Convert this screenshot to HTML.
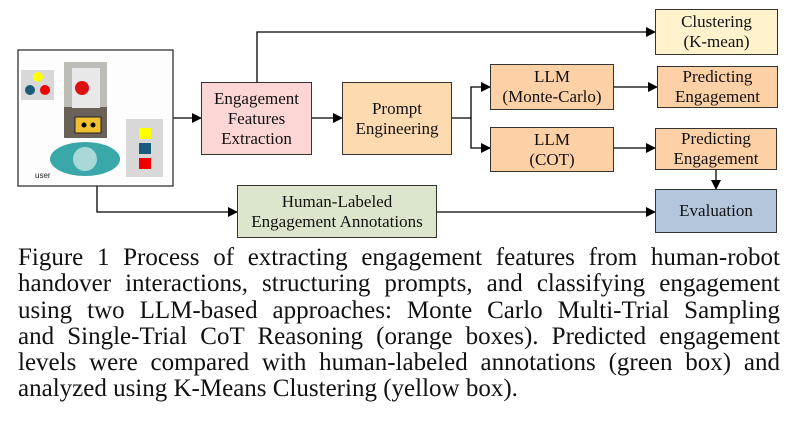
<!DOCTYPE html>
<html><head><style>
body{margin:0;width:797px;height:432px;background:#fff;position:relative;overflow:hidden;font-family:"Liberation Serif",serif}
.b{position:absolute;box-sizing:border-box;border:1.5px solid #333;display:flex;align-items:center;justify-content:center;text-align:center;font-size:17px;line-height:20px;color:#111}
.cap{position:absolute;left:18px;top:245px;width:762px;font-size:25px;line-height:26.3px;color:#111}
.cap div{text-align:justify;text-align-last:justify;white-space:nowrap}
.cap div.l{text-align-last:left;letter-spacing:0}
</style></head><body>
<svg width="797" height="432" style="position:absolute;left:0;top:0">
<defs><marker id="a" markerWidth="10" markerHeight="10" refX="9" refY="5" orient="auto" markerUnits="userSpaceOnUse"><path d="M0,0 L10,5 L0,10 z" fill="#000"/></marker></defs>
<g stroke="#000" stroke-width="1.3" fill="none">
<path d="M173,118 H201" marker-end="url(#a)"/>
<path d="M257,82 V32 H655" marker-end="url(#a)"/>
<path d="M312,118 H342" marker-end="url(#a)"/>
<path d="M452,118 H471 V87 H490" marker-end="url(#a)"/>
<path d="M471,118 V148 H490" marker-end="url(#a)"/>
<path d="M614,87 H657" marker-end="url(#a)"/>
<path d="M614,148 H655" marker-end="url(#a)"/>
<path d="M716,170 V189" marker-end="url(#a)"/>
<path d="M97,186 V212 H237" marker-end="url(#a)"/>
<path d="M437,212 H655" marker-end="url(#a)"/>
</g>
<rect x="18" y="50" width="155" height="136" fill="#fdfdfd" stroke="#333" stroke-width="1.3"/>
<rect x="21" y="70" width="33" height="30" fill="#d8d8d8"/>
<circle cx="38" cy="77" r="5" fill="#ffff00"/><circle cx="30" cy="90" r="5" fill="#1a5a7a"/><circle cx="45" cy="90" r="5" fill="#ee0000"/>
<rect x="64" y="62" width="43" height="45" fill="#bdbdb8"/><rect x="64" y="107" width="43" height="31" fill="#6a6258"/>
<rect x="72" y="68" width="28" height="40" fill="#e8e8e8"/><circle cx="82" cy="88" r="7" fill="#dd1111"/>
<rect x="75" y="117" width="26" height="16" fill="#f0c030" stroke="#222"/><circle cx="84" cy="125" r="2.5" fill="#000"/><circle cx="93" cy="125" r="2.5" fill="#000"/>
<rect x="126" y="119" width="37" height="58" fill="#d8d8d8"/>
<rect x="139" y="128" width="12" height="11" fill="#ffff00"/><rect x="139" y="143" width="12" height="11" fill="#1a5a7a"/><rect x="139" y="158" width="12" height="11" fill="#ee0000"/>
<ellipse cx="85" cy="159" rx="35" ry="17" fill="#3aa8a8"/><circle cx="85" cy="159" r="12" fill="#a8d8d8"/>
<text x="35" y="178" font-family="Liberation Sans,sans-serif" font-size="8" fill="#222">user</text>
</svg>
<div class="b" style="left:201px;top:82px;width:111px;height:73px;background:#fcd5d5">Engagement<br>Features<br>Extraction</div>
<div class="b" style="left:342px;top:82px;width:110px;height:73px;background:#fddab0">Prompt<br>Engineering</div>
<div class="b" style="left:490px;top:64px;width:124px;height:46px;background:#fdd0a6">LLM<br>(Monte-Carlo)</div>
<div class="b" style="left:490px;top:127px;width:124px;height:45px;background:#fdd0a6">LLM<br>(COT)</div>
<div class="b" style="left:655px;top:9px;width:123px;height:46px;background:#fff2cc">Clustering<br>(K-mean)</div>
<div class="b" style="left:657px;top:66px;width:121px;height:42px;background:#fdd0a6">Predicting<br>Engagement</div>
<div class="b" style="left:655px;top:128px;width:122px;height:42px;background:#fdd0a6">Predicting<br>Engagement</div>
<div class="b" style="left:655px;top:189px;width:122px;height:44px;background:#b4c6dc">Evaluation</div>
<div class="b" style="left:237px;top:185px;width:200px;height:53px;background:#dbe6cc">Human-Labeled<br>Engagement Annotations</div>
<div class="cap">
<div>Figure 1 Process of extracting engagement features from human-robot</div>
<div>handover interactions, structuring prompts, and classifying engagement</div>
<div>using two LLM-based approaches: Monte Carlo Multi-Trial Sampling</div>
<div>and Single-Trial CoT Reasoning (orange boxes). Predicted engagement</div>
<div>levels were compared with human-labeled annotations (green box) and</div>
<div class="l">analyzed using K-Means Clustering (yellow box).</div>
</div>
</body></html>
